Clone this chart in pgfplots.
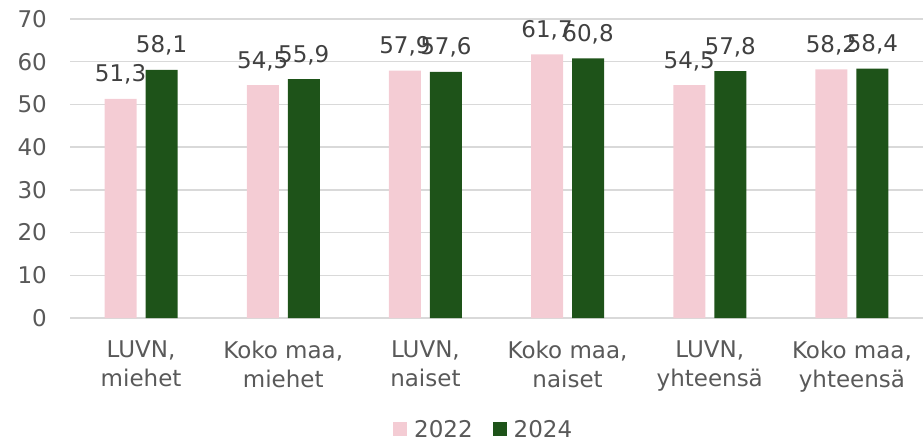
\documentclass[border=0pt]{standalone}
\usepackage{fontspec}
\setmainfont{DejaVu Sans}
\usepackage{pgfplots}
\pgfplotsset{compat=1.18}
\definecolor{pinkbar}{HTML}{F4CCD4}
\definecolor{greenbar}{HTML}{1E5319}
\definecolor{ticktext}{HTML}{595959}
\definecolor{labeltext}{HTML}{404040}
\definecolor{gridc}{HTML}{D9D9D9}
\begin{document}
\begin{tikzpicture}
\path[use as bounding box] (0,0) rectangle (923pt,442pt);
\begin{axis}[
  at={(70pt,124pt)}, anchor=south west,
  scale only axis, width=853pt, height=299pt,
  ybar=9pt, bar width=32pt,
  xmin=-0.5, xmax=5.5, ymin=0, ymax=70,
  ytick={0,10,...,70},
  xtick={0,...,5},
  xticklabels={{LUVN,\\miehet},{Koko maa,\\miehet},{LUVN,\\naiset},{Koko maa,\\naiset},{LUVN,\\yhteensä},{Koko maa,\\yhteensä}},
  major tick length=0pt,
  axis line style={draw=none},
  ymajorgrids, grid style={gridc, line width=1.5pt},
  /pgf/number format/assume math mode=true,
  yticklabel style={font=\fontsize{23}{27}\selectfont, text=ticktext, anchor=east, inner sep=0pt, xshift=-23pt},
  xticklabel style={font=\fontsize{23}{29}\selectfont, text=ticktext, align=center, anchor=north, inner sep=0pt, yshift=-23pt},
  nodes near coords,
  nodes near coords style={font=\fontsize{23}{27}\selectfont, text=labeltext, anchor=base, inner sep=0pt, yshift=17pt,
    /pgf/number format/.cd, use comma, fixed, fixed zerofill, precision=1, assume math mode=true},
  clip=false,
  legend style={at={(0.485,-0.372)}, anchor=center, draw=none, fill=none, legend columns=2,
    font=\fontsize{23}{27}\selectfont, text=ticktext,
    /tikz/every odd column/.append style={column sep=5pt},
    /tikz/every even column/.append style={column sep=18pt}},
  legend image code/.code={\fill[#1] (0pt,-7pt) rectangle (14pt,7pt);},
]
\addplot[fill=pinkbar, draw=none] coordinates {(0,51.3) (1,54.5) (2,57.9) (3,61.7) (4,54.5) (5,58.2)};
\addplot[fill=greenbar, draw=none] coordinates {(0,58.1) (1,55.9) (2,57.6) (3,60.8) (4,57.8) (5,58.4)};
\legend{2022,2024}
\end{axis}
\end{tikzpicture}
\end{document}
